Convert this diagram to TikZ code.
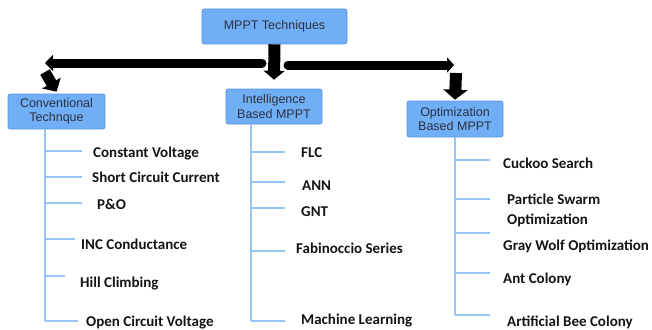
\documentclass[tikz,border=0pt]{standalone}
\usepackage{fontspec}
\setmainfont{Carlito}
\newfontfamily\boxfont{Liberation Sans}
\usetikzlibrary{arrows.meta}
\definecolor{boxfill}{RGB}{112,174,246}
\definecolor{boxline}{RGB}{88,148,222}
\definecolor{boxtext}{RGB}{45,50,62}
\definecolor{treeline}{RGB}{150,196,246}
\definecolor{labtext}{RGB}{20,20,20}
\tikzset{
  mbox/.style={draw=boxline, fill=boxfill, rounded corners=2pt, line width=0.6pt,
    align=center, inner sep=0pt, text=boxtext,
    font=\boxfont\fontsize{12.5}{14.5}\selectfont},
  lab/.style={anchor=base west, inner sep=0pt, text=labtext, align=left,
    font=\bfseries\fontsize{15}{20}\selectfont},
  trunk/.style={draw=treeline, line width=2pt},
  branch/.style={draw=treeline, line width=1.6pt},
  fatline/.style={line width=9pt, line cap=round},
}
\begin{document}
\begin{tikzpicture}[x=1pt,y=-1pt]
\useasboundingbox (0,0) rectangle (652,329);
% boxes
\node[mbox, minimum width=145pt, minimum height=35pt] (main) at (274.5,26.5) {MPPT Techniques};
\node[mbox, minimum width=97pt, minimum height=35pt] (conv) at (56.5,111.5) {Conventional\\Technque};
\node[mbox, minimum width=96pt, minimum height=35pt] (intel) at (274,106.5) {Intelligence\\Based MPPT};
\node[mbox, minimum width=96pt, minimum height=36pt] (optim) at (455,119) {Optimization\\Based MPPT};
% thick arrows
\coordinate (hlS) at (262,63);
\coordinate (hlE) at (45,63);
\coordinate (hrS) at (288,65);
\coordinate (hrE) at (454,65);
\coordinate (dl) at (45,72);
\coordinate (dr) at (456,73);
\draw[line width=12pt, -{Triangle[width=21pt,length=9pt]}] (main.south) -- ([yshift=9pt]intel.north);
\draw[fatline, -{Triangle[width=16pt,length=8pt]}] (hlS) -- (hlE);
\draw[fatline, -{Triangle[width=15pt,length=7pt]}] (hrS) -- (hrE);
\draw[line width=11pt, -{Triangle[width=21pt,length=10pt]}] (dl) -- ([yshift=2pt]conv.north);
\draw[line width=12pt, -{Triangle[width=24pt,length=10pt]}] (dr) -- ([yshift=1pt]optim.north);
% left tree labels
\node[lab] (c1) at (93,157) {Constant Voltage};
\node[lab] (c2) at (92,182) {Short Circuit Current};
\node[lab] (c3) at (97,209) {P\&O};
\node[lab] (c4) at (81,249) {INC Conductance};
\node[lab] (c5) at (80,287) {Hill Climbing};
\node[lab] (c6) at (86,326) {Open Circuit Voltage};
% middle tree labels
\node[lab] (i1) at (301,157) {FLC};
\node[lab] (i2) at (302,190) {ANN};
\node[lab] (i3) at (301,216) {GNT};
\node[lab] (i4) at (296,253) {Fabinoccio Series};
\node[lab] (i5) at (301,324) {Machine Learning};
% right tree labels
\node[lab] (o1) at (503,168) {Cuckoo Search};
\node[lab, anchor=north west] (o2) at (507,194) {Particle Swarm\\Optimization};
\node[lab] (o3) at (503,250) {Gray Wolf Optimization};
\node[lab] (o4) at (503,283) {Ant Colony};
\node[lab] (o5) at (507,326) {Artificial Bee Colony};
% branch end coordinates
\coordinate (cb1) at (82,151);
\coordinate (cb2) at (82,177);
\coordinate (cb3) at (82,203);
\coordinate (cb4) at (75,239);
\coordinate (cb5) at (65,276);
\coordinate (cb6) at (78,321);
\coordinate (ib1) at (285,152);
\coordinate (ib2) at (285,182);
\coordinate (ib3) at (285,208);
\coordinate (ib4) at (285,251);
\coordinate (ib5) at (285,321);
\coordinate (ob1) at (490,160);
\coordinate (ob2) at (490,199);
\coordinate (ob3) at (490,233);
\coordinate (ob4) at (490,273);
\coordinate (ob5) at (490,315);
\coordinate (ct) at (45,129);
\coordinate (it) at (251,124);
\coordinate (ot) at (455,137);
% trunks
\draw[trunk] (ct) -- (ct |- cb6);
\draw[trunk] (it) -- (it |- ib5);
\draw[trunk] (ot) -- (ot |- ob5);
% branches
\foreach \b in {cb1,cb2,cb3,cb4,cb5,cb6} \draw[branch] (ct |- \b) -- (\b);
\foreach \b in {ib1,ib2,ib3,ib4,ib5} \draw[branch] (it |- \b) -- (\b);
\foreach \b in {ob1,ob2,ob3,ob4,ob5} \draw[branch] (ot |- \b) -- (\b);
\end{tikzpicture}
\end{document}
